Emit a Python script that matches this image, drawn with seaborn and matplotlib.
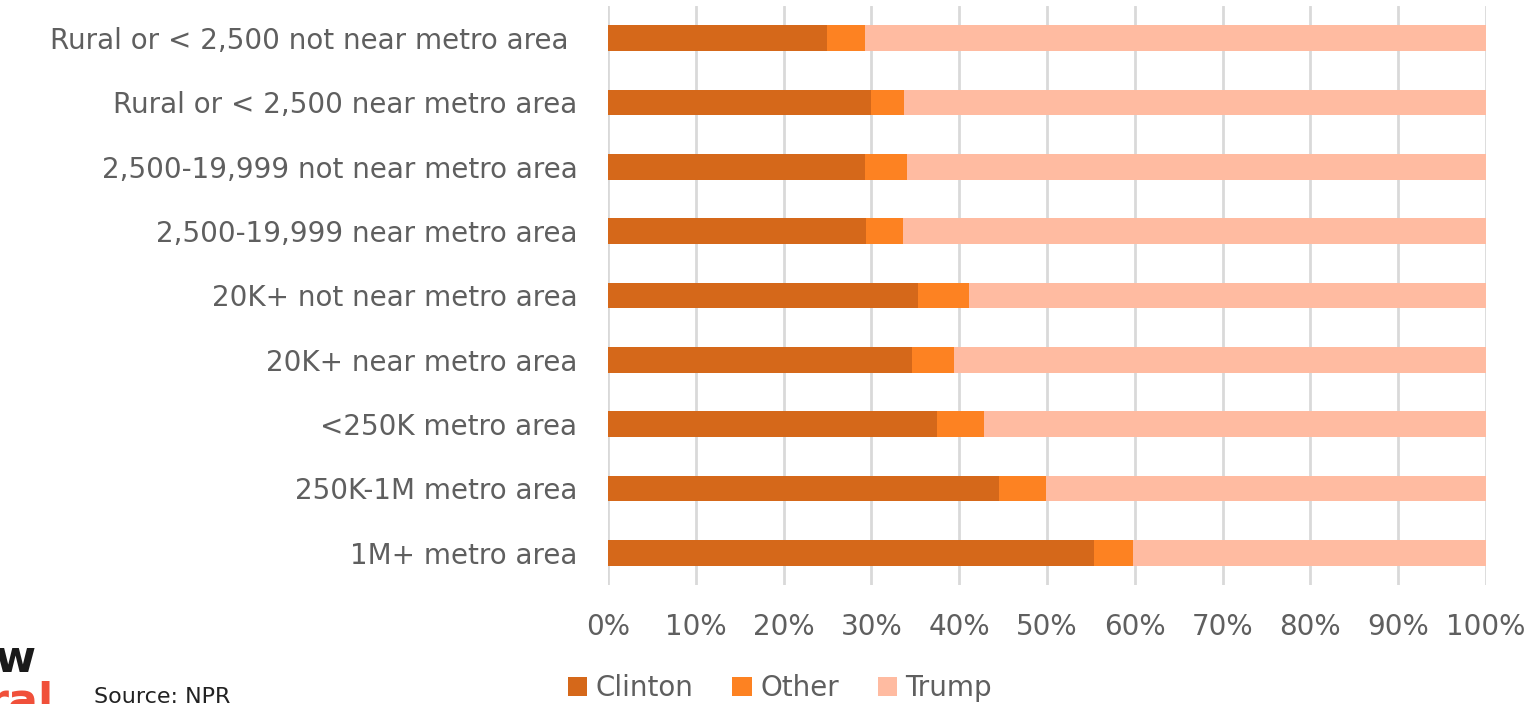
import matplotlib
matplotlib.use("Agg")
import matplotlib.pyplot as plt
import seaborn as sns
import pandas as pd
import numpy as np
from matplotlib.patches import Patch

categories = [
    "Rural or < 2,500 not near metro area ",
    "Rural or < 2,500 near metro area",
    "2,500-19,999 not near metro area",
    "2,500-19,999 near metro area",
    "20K+ not near metro area",
    "20K+ near metro area",
    "<250K metro area",
    "250K-1M metro area",
    "1M+ metro area",
]
clinton = [24.9, 30.0, 29.3, 29.4, 35.3, 34.6, 37.5, 44.5, 55.4]
other = [4.4, 3.7, 4.8, 4.2, 5.8, 4.8, 5.3, 5.4, 4.4]
trump = [100 - c - o for c, o in zip(clinton, other)]
series_names = ["Clinton", "Other", "Trump"]
colors = ["#D5681A", "#FD8222", "#FFBBA1"]
xticks = list(range(0, 101, 10))

sns.set_theme(style="white")
plt.rcParams["font.family"] = ["DejaVu Sans"]
text_color = "#5f5f5f"

df = pd.DataFrame({"cat": categories, "Clinton": clinton, "Other": other, "Trump": trump})
df["c1"] = df["Clinton"]
df["c2"] = df["Clinton"] + df["Other"]
df["c3"] = df["c2"] + df["Trump"]

fig = plt.figure(figsize=(15.35, 7.04), dpi=100)
ax = fig.add_axes([608 / 1535, 1 - 585 / 704, (1486 - 608) / 1535, (585 - 6) / 704])

for col, colr in zip(["c3", "c2", "c1"], colors[::-1]):
    sns.barplot(data=df, y="cat", x=col, orient="h", color=colr, width=0.4,
                saturation=1, ax=ax, linewidth=0, zorder=3)

ax.set_xlim(0, 100)
ax.set_ylim(len(categories) - 0.5, -0.5)
ax.set_xticks(xticks)
ax.set_xticklabels([f"{t}%" for t in xticks], fontsize=20, color=text_color)
ax.tick_params(axis="y", labelsize=20, labelcolor=text_color, pad=22, length=0)
ax.tick_params(axis="x", pad=20, length=0)
ax.set_xlabel("")
ax.set_ylabel("")
for s in ax.spines.values():
    s.set_visible(False)
ax.grid(axis="x", color="#d9d9d9", linewidth=2, zorder=0)
ax.grid(axis="y", visible=False)
ax.set_axisbelow(True)

handles = [Patch(facecolor=c, edgecolor="none", label=n) for n, c in zip(series_names, colors)]
fig.legend(handles=handles, loc="center", bbox_to_anchor=(780 / 1535, 1 - 688 / 704),
           ncol=3, frameon=False, fontsize=20, handlelength=0.7, handleheight=0.7,
           handletextpad=0.3, columnspacing=1.4, labelcolor=text_color)

fig.text(94 / 1535, 1 - 697 / 704, "Source: NPR", fontsize=16, color="#222222", va="center", ha="left")
fig.text(-6 / 1535, 1 - 660 / 704, "w", fontsize=32, fontweight="bold", color="#1a1a1a", va="center", ha="left")
fig.text(-14 / 1535, 1 - 702 / 704, "ral", fontsize=32, fontweight="bold", color="#F0503A", va="center", ha="left")

fig.savefig("out.png", dpi=100)
